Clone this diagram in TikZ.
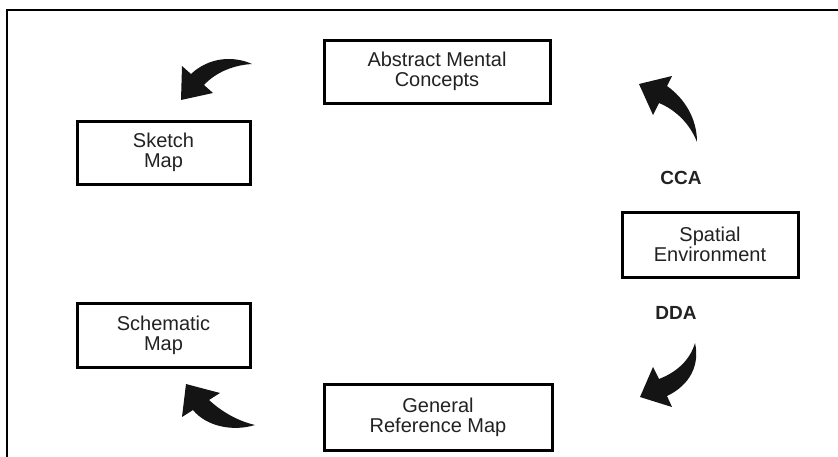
\documentclass[tikz,border=0pt]{standalone}
\usepackage{fontspec}
\setmainfont{Liberation Sans}
\definecolor{txt}{HTML}{222222}
\begin{document}
\begin{tikzpicture}[x=1pt,y=-1pt,
  box/.style={draw=black, line width=3pt, fill=white, align=center, inner sep=0pt,
    font=\fontsize{20}{20}\selectfont, text=txt},
  lbl/.style={font=\fontsize{19}{19}\selectfont\bfseries, text=txt, inner sep=0pt},
  barrow/.style={fill=black!92, draw=none},
  frame/.style={draw=black, line width=1.4pt}]
\useasboundingbox (0,0) rectangle (838,456);
\fill[white] (0,0) rectangle (838,456);
\draw[frame] (7,460) -- (7,10) -- (842,10);

\node[box, minimum width=226pt, minimum height=63pt] (abs) at (437,71.5) {Abstract Mental\\Concepts};
\node[box, minimum width=173pt, minimum height=63pt] (sketch) at (163.5,152.5) {Sketch\\Map};
\node[box, minimum width=176pt, minimum height=65pt] (spatial) at (710,244.5) {Spatial\\Environment};
\node[box, minimum width=173pt, minimum height=64pt] (schem) at (163.5,335) {Schematic\\Map};
\node[box, minimum width=228pt, minimum height=66pt] (gen) at (438,417) {General\\Reference Map};

\node[lbl] (cca) at (681,178) {CCA};
\node[lbl] (dda) at (676,313) {DDA};

% top-left arrow
\fill[barrow] (181,100) -- (182,66) -- (191,74) .. controls (208,58) and (232,55) .. (252,64)
  .. controls (234,65) and (216,72) .. (204,85) -- (213,93) -- cycle;
% top-right arrow
\fill[barrow] (639,84) -- (672,76) -- (667,86) .. controls (684,98) and (697,118) .. (697,142)
  .. controls (690,124) and (676,110) .. (659,103) -- (653,115) -- cycle;
% bottom-right arrow
\fill[barrow] (640,397) -- (653,367) -- (659,379) .. controls (677,372) and (690,360) .. (695,343)
  .. controls (700,365) and (690,385) .. (667,396) -- (672,407) -- cycle;
% bottom-left arrow
\fill[barrow] (186,384) -- (220,393) -- (209,400) .. controls (222,412) and (238,421) .. (255,425)
  .. controls (232,432) and (206,426) .. (193,410) -- (182,417) -- cycle;
\end{tikzpicture}
\end{document}
